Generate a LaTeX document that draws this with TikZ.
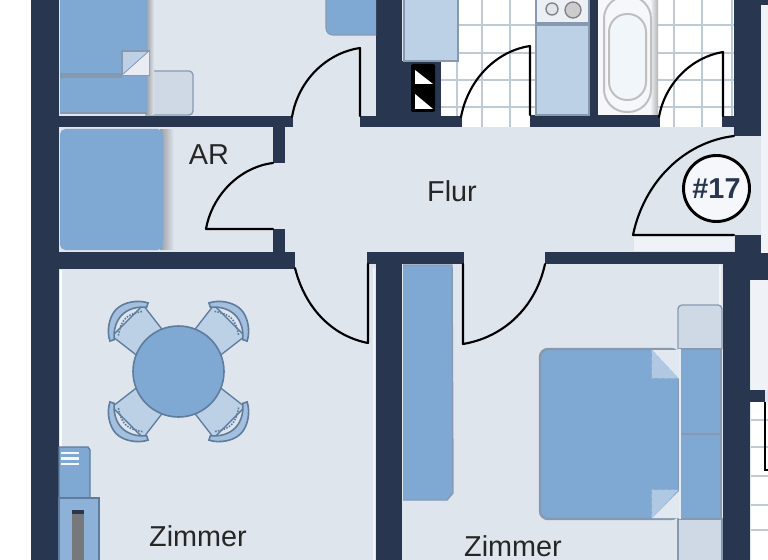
\documentclass[tikz,border=0pt]{standalone}
\usepackage{fontspec}
\setmainfont{Liberation Sans}
\definecolor{wallc}{RGB}{40,55,79}
\definecolor{floorc}{RGB}{223,229,237}
\definecolor{bluec}{RGB}{127,168,210}
\definecolor{paleb}{RGB}{188,208,230}
\definecolor{edgec}{RGB}{135,153,176}
\definecolor{standc}{RGB}{207,217,230}
\definecolor{tilec}{RGB}{190,203,212}
\definecolor{chairc}{RGB}{94,124,157}
\tikzset{
  wallpart/.style={fill=wallc},
  doorline/.style={line width=1.6pt, black, line cap=round, line join=round},
  furn/.style={fill=bluec, draw=edgec, line width=1.1pt},
  stand/.style={fill=standc, draw=edgec, line width=1pt},
  tile/.style={tilec, line width=1.2pt},
  tubring/.style={draw=gray!50, line width=1.5pt},
  label/.style={inner sep=0.75pt, font=\fontsize{21.6}{24}\selectfont, text=black!85}
}
\begin{document}
\begin{tikzpicture}[x=0.75pt,y=0.75pt,yscale=-1,xscale=1]
    \clip (0,0) rectangle (768,560);
    \fill [white] (0,0) rectangle (768,560);
    \fill [floorc] (59,0) rectangle (768,560);

    %Tiled rooms
    \fill [white] (441,0) rectangle (536,127);
    \fill [white] (650,0) rectangle (734,127);
    \foreach \gx in {457,482,510,674,702,732} \draw [tile] (\gx,0) -- (\gx,127);
    \foreach \gy in {25,53,80,107} {
      \draw [tile] (441,\gy) -- (536,\gy);
      \draw [tile] (650,\gy) -- (734,\gy);
    }
    \fill [white] (751,402) rectangle (768,560);
    \foreach \gy in {420,447,476,505,530} \draw [tilec, line width=0.8pt] (751,\gy) -- (768,\gy);
    \fill [white!50!floorc] (751,280) rectangle (768,390);
    \fill [white!50!floorc] (761,5) rectangle (768,253);
    \fill [white!50!floorc] (634,237) rectangle (734,251);

    %Walls
    \fill [wallpart] (31,0) rectangle (59,560);
    \fill [wallpart] (59,116) rectangle (293,127);
    \fill [wallpart] (273,127) rectangle (285,163);
    \fill [wallpart] (273,229) rectangle (285,252);
    \fill [wallpart] (59,252) rectangle (295,269);
    \fill [wallpart] (367,252) rectangle (464,264);
    \fill [wallpart] (545,252) rectangle (735,264);
    \fill [wallpart] (376,0) rectangle (402,116);
    \fill [wallpart] (402,61) rectangle (441,116);
    \fill [wallpart] (360,116) rectangle (462,127);
    \fill [wallpart] (530,115) rectangle (660,127);
    \fill [wallpart] (589,0) rectangle (598,115);
    \fill [wallpart] (722,116) rectangle (735,127);
    \fill [wallpart] (734,0) rectangle (761,136);
    \fill [wallpart] (761,0) rectangle (768,5);
    \fill [wallpart] (735,235) rectangle (761,264);
    \fill [wallpart] (376,264) rectangle (402,560);
    \fill [wallpart] (723,262) rectangle (750,560);
    \fill [wallpart] (750,253) rectangle (768,280);
    \fill [wallpart] (750,390) rectangle (765,402);
    \draw [white, line width=1.4pt] (61,270) -- (61,560);
    \draw [white!60!floorc, line width=1.8pt] (374,268) -- (374,560);
    \draw [white!60!floorc, line width=1.8pt] (720,265) -- (720,305);

    %Shaft
    \fill [black, rounded corners=1pt] (411,64) rectangle (435,112);
    \fill [white] (415,70) -- (433,84) -- (415,84) -- cycle;
    \fill [white] (415,94) -- (433,109) -- (415,109) -- cycle;

    %Kitchen
    \fill [paleb, draw=edgec, line width=0.8pt] (404,-2) rectangle (458,61);
    \fill [paleb, draw=edgec, line width=0.8pt] (536,25) rectangle (589,115);
    \fill [floorc!60!white, draw=edgec, line width=0.8pt] (536,-2) rectangle (589,23);
    \draw [gray, fill=floorc, line width=1pt] (552,9) circle [radius=6];
    \draw [gray, fill=gray!40, line width=1pt] (573,10) circle [radius=8];

    %Bath tub
    \fill [white!70!floorc] (598,-2) rectangle (658,115);
    \shade [left color=white!70!floorc, right color=gray!60] (650,-2) rectangle (658,115);
    \draw [tubring, rounded corners=17pt] (604,-4) rectangle (651,112);
    \draw [tubring, rounded corners=13.5pt] (609,14) rectangle (646,100);
    \fill [white!80!paleb, rounded corners=12pt] (611,16) rectangle (644,98);

    %Top room furniture
    \draw [stand, rounded corners=3pt] (145,71) -- (193,71) -- (193,115) -- (145,115);
    \shade [left color=gray!80!wallc!70, right color=floorc] (146,-2) rectangle (154,115);
    \fill [bluec] (60,-2) rectangle (147,113);
    \fill [edgec] (60,73) rectangle (122,78);
    \fill [paleb, draw=edgec, line width=0.8pt] (122,51) rectangle (149,75);
    \fill [floorc!70!white] (122,75) -- (149,51) -- (149,75) -- cycle;
    \draw [edgec, line width=0.6pt] (122,75) -- (149,51);
    \draw [edgec, line width=1pt] (60,113) -- (147,113);
    \path [fill=bluec, draw=edgec, line width=0.8pt] (376,-5) -- (326,-5) [rounded corners=5pt] -- (326,35) [sharp corners] -- (376,35);

    %AR furniture
    \shade [left color=gray!80!wallc!70, right color=floorc] (160,130) rectangle (174,249);
    \fill [bluec, rounded corners=4pt] (60,129) rectangle (163,250);

    %Wardrobe
    \draw [furn] (403,265) -- (452,265) -- (453,493) -- (447,500) -- (403,500);

    %Bed
    \draw [stand, rounded corners=3pt] (678,349) -- (678,305) -- (722,305) -- (722,349);
    \draw [stand] (678,519) rectangle (722,565);
    \fill [bluec, draw=edgec, line width=1pt] (680,349) rectangle (721,519);
    \draw [edgec, line width=1.4pt] (680,434) -- (721,434);
    \draw [furn, line width=1.8pt, rounded corners=6pt] (540,349) rectangle (679,519);
    \fill [white!40!standc] (652,350) -- (680,350) -- (680,380) -- cycle;
    \fill [white!40!standc] (652,518) -- (680,518) -- (680,490) -- cycle;
    \draw [paleb!80!bluec, fill=paleb!80!bluec, densely dashed] (652,350) -- (652,378) -- (678,378) -- cycle;
    \draw [paleb!80!bluec, fill=paleb!80!bluec, densely dashed] (652,518) -- (652,490) -- (678,490) -- cycle;
    \draw [white!60!paleb, line width=1.2pt] (680,349) -- (680,519);

    %Dining table
    \foreach \chairangle in {45,135,225,315} {
      \begin{scope}[shift={(178.5,371.5)}, rotate=\chairangle]
        \draw [fill=paleb, draw=chairc, line width=1pt] (40,-18) -- (72,-22) -- (72,22) -- (40,18) -- cycle;
        \draw [fill=paleb!60!bluec, draw=chairc, line width=1.2pt] (70,-27) .. controls (80,-22) and (88,-10) .. (88,0) .. controls (88,10) and (80,22) .. (70,27) -- (68,23) .. controls (76,16) and (80,8) .. (80,0) .. controls (80,-8) and (76,-16) .. (68,-23) -- cycle;
        \draw [chairc, densely dotted, line width=1.2pt] (68,-17) .. controls (73,-10) and (75,-5) .. (75,0) .. controls (75,5) and (73,10) .. (68,17);
      \end{scope}
    }
    \draw [fill=bluec, draw=chairc, line width=1.2pt] (178.5,371.5) circle [radius=45.5];

    %Media unit
    \fill [bluec, draw=chairc, line width=1pt] (59,447) -- (88,447) -- (90,450) -- (90,498) -- (59,498) -- cycle;
    \foreach \sy in {453,458.5,464} \draw [white!70!floorc, line width=1.6pt] (61,\sy) -- (79,\sy);
    \fill [bluec!75!paleb, draw=chairc, line width=1pt] (59,498) -- (99,498) -- (99,562) -- (59,562) -- cycle;
    \fill [gray!90!wallc] (72,510) rectangle (84,562);
    \fill [wallc] (72,510) rectangle (84,514);

    %Doors
    \draw [doorline] (360,116) -- (360,48) .. controls (326,53) and (298,81) .. (292,117);
    \draw [doorline] (273,163) .. controls (240,167) and (212,195) .. (206,229) -- (273,229);
    \draw [doorline] (530,115) -- (530,46) .. controls (496,51) and (468,80) .. (461,117);
    \draw [doorline] (723,116) -- (723,52) .. controls (692,57) and (665,83) .. (659,117);
    \draw [doorline] (734,136) .. controls (684,142) and (644,182) .. (633,235) -- (734,235);
    \draw [doorline] (295,268) .. controls (305,308) and (332,336) .. (368,343) -- (368,264);
    \draw [doorline] (545,264) .. controls (536,306) and (505,337) .. (463,344) -- (463,264);
    \draw [line width=1.2pt, black] (765,402) -- (765,470) -- (768,470);

    % Text Node
    \node (arLabel) [label] at (209,155) {AR};
    \node (flurLabel) [label] at (452,191) {Flur};
    \node (zimmerLeft) [label] at (198,536) {Zimmer};
    \node (zimmerRight) [label, anchor=base] at (513,556) {Zimmer};
    \node (unitBadge) [circle, draw=black, line width=2.2pt, fill=white!70!floorc, minimum size=49.5pt, inner sep=0pt, text=wallc, font=\bfseries\fontsize{21.6}{24}\selectfont] at (716.5,188.5) {\#17};
\end{tikzpicture}
\end{document}
